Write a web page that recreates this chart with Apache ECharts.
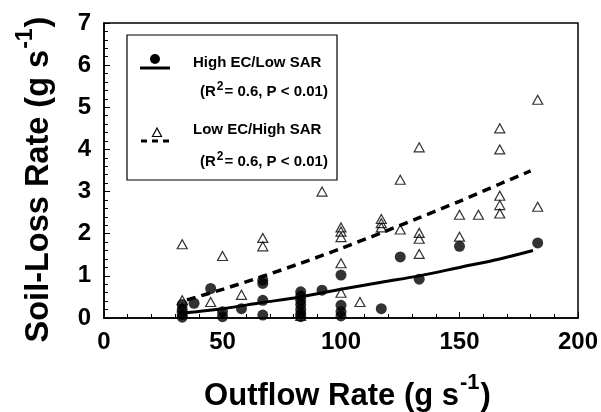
<!DOCTYPE html>
<html><head><meta charset="utf-8">
<script src="https://cdn.jsdelivr.net/npm/echarts@6/dist/echarts.min.js"></script>
<style>html,body{margin:0;padding:0;background:#fff}#c{width:601px;height:412px}</style>
</head><body><div id="c"></div>
<script>
// High EC / Low SAR (filled circles)
const highX = [33,33,33,33,38,45,50,50,58,67,67,67,67,83,83,83,83,83,83,83,92,100,100,100,100,117,125,133,150,183];
const highY = [0.32,0.2,0.08,0.02,0.35,0.7,0.15,0.03,0.22,0.9,0.82,0.42,0.07,0.62,0.52,0.42,0.32,0.2,0.1,0.03,0.66,1.02,0.3,0.15,0.05,0.22,1.45,0.92,1.7,1.78];
// Low EC / High SAR (open triangles)
const lowX = [33,33,33,45,50,58,67,67,83,92,100,100,100,100,100,108,117,117,117,125,125,133,133,133,133,150,150,158,167,167,167,167,167,183,183];
const lowY = [1.75,0.42,0.25,0.38,1.47,0.55,1.9,1.7,0.05,3.0,2.15,2.05,1.92,1.3,0.6,0.38,2.35,2.25,2.15,3.28,2.1,4.05,2.02,1.88,1.52,2.45,1.93,2.45,4.5,4.0,2.9,2.68,2.48,5.18,2.64];
// Regression curves
const fitHighX = [34,50,66,83,100,117,133,150,167,181];
const fitHighY = [0.12,0.22,0.36,0.5,0.68,0.85,1.0,1.2,1.4,1.6];
const fitLowX = [35,50,66,83,100,117,133,150,167,180];
const fitLowY = [0.43,0.68,0.97,1.3,1.65,2.02,2.38,2.77,3.18,3.49];
// Axes
const xTicks = [0,50,100,150,200];
const yTicks = [0,1,2,3,4,5,6,7];
const seriesNames = ['High EC/Low SAR','Low EC/High SAR'];
const statText = '{t|(R}{s|2}{t|= 0.6, P < 0.01)}';

const FF = '"Liberation Sans", Arial, Helvetica, sans-serif';
const zip = (a,b) => a.map((v,i)=>[v,b[i]]);

const chart = echarts.init(document.getElementById('c'), null, {renderer:'canvas'});
const legendRich = {
  s:{fontSize:12, fontWeight:'bold', fontFamily:FF, padding:[0,1,11,1], fill:'#000'},
  t:{fontSize:15, fontWeight:'bold', fontFamily:FF, fill:'#000'}
};
chart.setOption({
  backgroundColor:'#fff',
  animation:false,
  grid:{left:104,right:23,top:23,bottom:94,show:true,borderColor:'#000',borderWidth:1.5,backgroundColor:'transparent',outerBoundsMode:'none'},
  xAxis:{
    type:'value',min:xTicks[0],max:xTicks[xTicks.length-1],interval:50,
    axisLine:{show:true,lineStyle:{color:'#000',width:1.5}},
    axisTick:{show:true,inside:true,length:6,lineStyle:{color:'#000',width:1}},
    minorTick:{show:true,splitNumber:5,length:4,lineStyle:{color:'#000',width:1}},
    splitLine:{show:false},
    axisLabel:{color:'#000',fontSize:24,fontWeight:'bold',fontFamily:FF,margin:12},
    name:'{a|Outflow Rate (g s}{b|-1}{a|)}',
    nameLocation:'middle',nameGap:54,
    nameTextStyle:{padding:[0,0,0,13],rich:{
      a:{fontSize:31,fontWeight:'bold',fontFamily:FF,color:'#000'},
      b:{fontSize:22,fontWeight:'bold',fontFamily:FF,color:'#000',padding:[0,1,27,1]}
    }}
  },
  yAxis:{
    type:'value',min:yTicks[0],max:yTicks[yTicks.length-1],interval:1,
    axisLine:{show:true,lineStyle:{color:'#000',width:1.5}},
    axisTick:{show:true,inside:true,length:6,lineStyle:{color:'#000',width:1}},
    minorTick:{show:true,splitNumber:5,length:4,lineStyle:{color:'#000',width:1}},
    splitLine:{show:false},
    axisLabel:{color:'#000',fontSize:24,fontWeight:'bold',fontFamily:FF,margin:13},
    name:'{a|Soil-Loss Rate (g s}{b|-1}{a|)}',
    nameLocation:'middle',nameGap:39,
    nameTextStyle:{padding:[0,18,0,0],rich:{
      a:{fontSize:32.5,fontWeight:'bold',fontFamily:FF,color:'#000'},
      b:{fontSize:23,fontWeight:'bold',fontFamily:FF,color:'#000',padding:[0,1,28,1]}
    }}
  },
  series:[
    {name:seriesNames[1],type:'scatter',data:zip(lowX,lowY),symbol:'triangle',symbolSize:[10,9],
     itemStyle:{color:'rgba(255,255,255,0)',borderColor:'#000',borderWidth:1.2},z:3},
    {name:seriesNames[0],type:'scatter',data:zip(highX,highY),symbol:'circle',symbolSize:11,
     itemStyle:{color:'#000'},z:4},
    {name:seriesNames[0]+' fit',type:'line',data:zip(fitHighX,fitHighY),symbol:'none',smooth:0.3,
     lineStyle:{color:'#000',width:3},z:5},
    {name:seriesNames[1]+' fit',type:'line',data:zip(fitLowX,fitLowY),symbol:'none',smooth:0.3,
     lineStyle:{color:'#000',width:3.5,type:[9,6]},z:5}
  ],
  graphic:[
    {type:'rect',shape:{x:127,y:35,width:210,height:145},style:{fill:'#fff',stroke:'#000',lineWidth:1.2},z:10},
    {type:'circle',shape:{cx:155,cy:59,r:5},style:{fill:'#000'},z:11},
    {type:'line',shape:{x1:140,y1:68,x2:170,y2:68},style:{stroke:'#000',lineWidth:3},z:11},
    {type:'text',x:193,y:63,style:{text:seriesNames[0],fontSize:15,fontWeight:'bold',fontFamily:FF,fill:'#000',verticalAlign:'middle'},z:11},
    {type:'text',x:200,y:92,style:{text:statText,verticalAlign:'middle',rich:legendRich},z:11},
    {type:'polygon',shape:{points:[[157,128],[161.5,136.5],[152.5,136.5]]},style:{fill:'none',stroke:'#000',lineWidth:1.2},z:11},
    {type:'line',shape:{x1:141,y1:141,x2:170,y2:141},style:{stroke:'#000',lineWidth:3,lineDash:[6,5]},z:11},
    {type:'text',x:193,y:130,style:{text:seriesNames[1],fontSize:15,fontWeight:'bold',fontFamily:FF,fill:'#000',verticalAlign:'middle'},z:11},
    {type:'text',x:200,y:162,style:{text:statText,verticalAlign:'middle',rich:legendRich},z:11}
  ]
});
</script></body></html>
